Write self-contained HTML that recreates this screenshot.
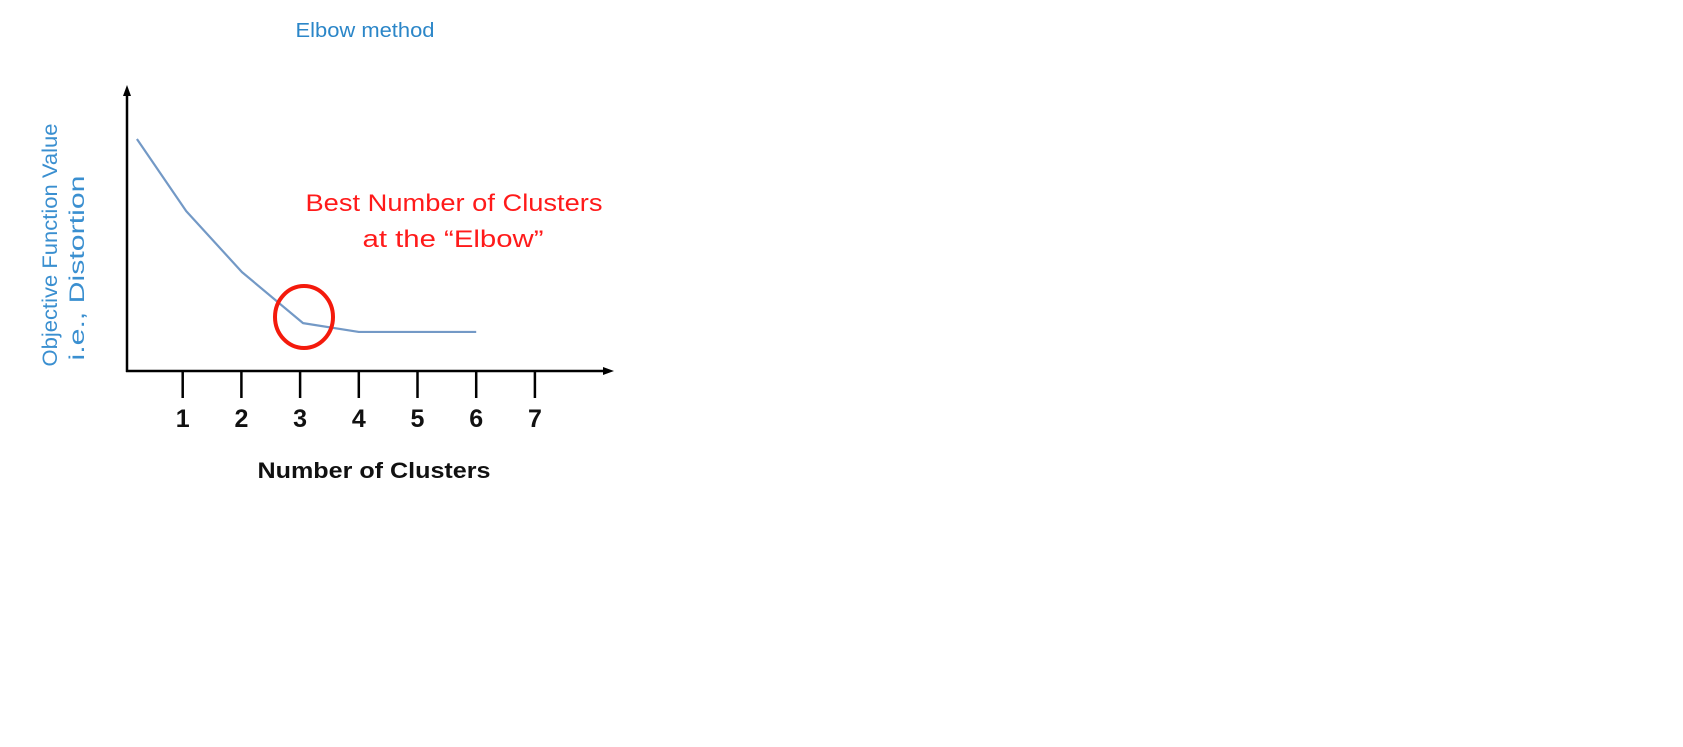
<!DOCTYPE html>
<html><head><meta charset="utf-8"><style>
html,body{margin:0;padding:0;background:#fff;width:1683px;height:747px;overflow:hidden}
svg{display:block}
</style></head><body>
<svg id="chart" width="1683" height="747" viewBox="0 0 1683 747">
<text x="365" y="37" text-anchor="middle" font-family="Liberation Sans, sans-serif" font-size="20" fill="#2b86c8" textLength="139" lengthAdjust="spacingAndGlyphs">Elbow method</text>
<g id="axes">
<line x1="127" y1="372" x2="127" y2="94" stroke="#000" stroke-width="2.5"/>
<polygon points="127,85 123,96 131,96" fill="#000"/>
<line x1="126" y1="371" x2="604" y2="371" stroke="#000" stroke-width="2.5"/>
<polygon points="614,371 603,367 603,375" fill="#000"/>
</g>
<g id="ticks"></g>
<path id="line" fill="none" stroke="#7399c6" stroke-width="2.2" stroke-linejoin="round"/>
<ellipse cx="304" cy="317" rx="29" ry="31" fill="none" stroke="#f41a0c" stroke-width="4"/>
<text x="454" y="211" text-anchor="middle" font-family="Liberation Sans, sans-serif" font-size="24" fill="#ff1a1a" textLength="297" lengthAdjust="spacingAndGlyphs">Best Number of Clusters</text>
<text x="453" y="247" text-anchor="middle" font-family="Liberation Sans, sans-serif" font-size="24" fill="#ff1a1a" textLength="181" lengthAdjust="spacingAndGlyphs">at the “Elbow”</text>
<text transform="translate(57,245) rotate(-90)" text-anchor="middle" font-family="Liberation Sans, sans-serif" font-size="21" fill="#3a8fd0" textLength="243" lengthAdjust="spacingAndGlyphs">Objective Function Value</text>
<text transform="translate(84,268) rotate(-90)" text-anchor="middle" font-family="Liberation Sans, sans-serif" font-size="21" fill="#3a8fd0" textLength="185" lengthAdjust="spacingAndGlyphs">i.e., Distortion</text>
<text x="374" y="478" text-anchor="middle" font-family="Liberation Sans, sans-serif" font-weight="bold" font-size="22" fill="#111" textLength="233" lengthAdjust="spacingAndGlyphs">Number of Clusters</text>
</svg>
<script>
const tickLabels = [1,2,3,4,5,6,7];
const xValues = [0.22,1.06,2.01,3.05,4.0,6.0];
const yValues = [8.14,5.61,3.47,1.68,1.37,1.37];
function xs(v){return 124 + v*58.7;}
function ys(v){return 371 - v*28.5;}
const ns='http://www.w3.org/2000/svg';
const tg=document.getElementById('ticks');
tickLabels.forEach(function(t){
  const l=document.createElementNS(ns,'line');
  l.setAttribute('x1',xs(t));l.setAttribute('x2',xs(t));
  l.setAttribute('y1',371);l.setAttribute('y2',398);
  l.setAttribute('stroke','#000');l.setAttribute('stroke-width','2.5');
  
  
  tg.appendChild(l);
  const tx=document.createElementNS(ns,'text');
  tx.setAttribute('x',xs(t));tx.setAttribute('y',427);
  tx.setAttribute('text-anchor','middle');
  tx.setAttribute('font-family','Liberation Sans, sans-serif');
  tx.setAttribute('font-weight','bold');tx.setAttribute('font-size','25');
  tx.setAttribute('fill','#111');
  tx.textContent=t;
  
  
  tg.appendChild(tx);
});
document.getElementById('line').setAttribute('d',
  xValues.map(function(x,i){return (i?'L':'M')+xs(x)+','+ys(yValues[i]);}).join(' '));
</script>
</body></html>
